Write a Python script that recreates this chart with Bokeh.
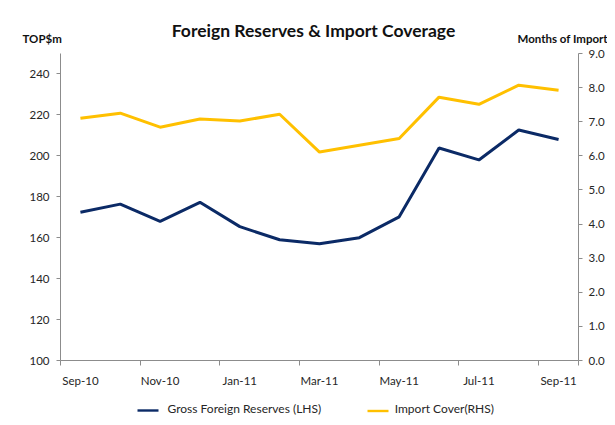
from bokeh.plotting import figure
from bokeh.models import Range1d, LinearAxis, FixedTicker, Label, ColumnDataSource
from bokeh.embed import file_html
from bokeh.resources import INLINE

# ---- data ----
months = ["Sep-10", "Oct-10", "Nov-10", "Dec-10", "Jan-11", "Feb-11", "Mar-11",
          "Apr-11", "May-11", "Jun-11", "Jul-11", "Aug-11", "Sep-11"]
reserves = [172.4, 176.4, 168.0, 177.3, 165.4, 159.0, 157.0, 160.0, 170.2, 203.8, 198.0, 212.6, 208.0]
import_cover = [7.10, 7.25, 6.84, 7.08, 7.02, 7.22, 6.11, 6.31, 6.51, 7.72, 7.51, 8.07, 7.92]
left_ticks = [100, 120, 140, 160, 180, 200, 220, 240]
right_ticks = [0, 1, 2, 3, 4, 5, 6, 7, 8, 9]
series_names = ["Gross Foreign Reserves (LHS)", "Import Cover(RHS)"]

FONT = "Lato"
BLUE = "#0b2a66"
GOLD = "#ffc000"
AXIS = "#8c8c8c"
TXT = "#262626"
DARK = "#111111"

x = list(range(len(months)))
src = ColumnDataSource(dict(x=x, res=reserves, cov=import_cover))

p = figure(width=607, height=417, output_backend="svg", toolbar_location=None,
           x_range=Range1d(-0.5, len(months) - 0.5), y_range=Range1d(100, 250),
           min_border_left=60, min_border_right=27, min_border_top=53, min_border_bottom=57)
p.extra_y_ranges = {"cover": Range1d(0, 9)}
p.xgrid.visible = False
p.ygrid.visible = False
p.outline_line_color = None
p.background_fill_color = "white"
p.border_fill_color = "white"

# x axis: labels every two months, tick marks between categories
xa = p.xaxis[0]
xa.ticker = FixedTicker(ticks=x[::2], minor_ticks=[i - 0.5 for i in x[::2]] + [len(months) - 0.5])
xa.major_label_overrides = {i: months[i] for i in x[::2]}
xa.major_tick_out = 0
xa.major_tick_in = 0
xa.minor_tick_out = 5
xa.minor_tick_in = 0
xa.minor_tick_line_color = AXIS
xa.axis_line_color = AXIS
xa.major_label_standoff = 8
xa.major_label_text_font = FONT
xa.major_label_text_font_size = "11.5px"
xa.major_label_text_color = TXT

ya = p.yaxis[0]
ya.ticker = FixedTicker(ticks=left_ticks)
ya.axis_line_color = AXIS
ya.major_tick_line_color = AXIS
ya.major_tick_out = 4
ya.major_tick_in = 0
ya.minor_tick_line_color = None
ya.major_label_standoff = 7
ya.major_label_text_font = FONT
ya.major_label_text_font_size = "11.5px"
ya.major_label_text_color = TXT

ra = LinearAxis(y_range_name="cover", ticker=FixedTicker(ticks=right_ticks))
ra.major_label_overrides = {t: f"{t:.1f}" for t in right_ticks}
ra.axis_line_color = AXIS
ra.major_tick_line_color = AXIS
ra.major_tick_out = 4
ra.major_tick_in = 0
ra.minor_tick_line_color = None
ra.major_label_standoff = 6
ra.major_label_text_font = FONT
ra.major_label_text_font_size = "11.5px"
ra.major_label_text_color = TXT
p.add_layout(ra, "right")

p.line("x", "res", source=src, line_color=BLUE, line_width=3)
p.line("x", "cov", source=src, y_range_name="cover", line_color=GOLD, line_width=3)

# ---- texts around the frame (side-panel labels stack outward from the frame) ----
def lab(text, x, y, size, bold=True, color=DARK, align="left", **kw):
    return Label(x=x, y=y, x_units="screen", y_units="screen", text=text,
                 text_align=align, text_baseline="middle", text_font=FONT,
                 text_font_style="bold" if bold else "normal",
                 text_font_size=size, text_color=color, **kw)

p.add_layout(lab("Foreign Reserves & Import Coverage", 253, 23, "17.5px", align="center"), "above")
p.add_layout(lab("TOP$m", -38, -6, "11.5px"), "above")
p.add_layout(lab("Months of Import", 457, -19, "11.5px"), "above")

# legend line samples (thin filled boxes)
p.add_layout(lab("\u2003" * 14, 77, -404, "2px", bold=False, color=BLUE,
                 background_fill_color=BLUE), "above")
p.add_layout(lab("\u2003" * 14, 307, -406.5, "2px", bold=False, color=GOLD,
                 background_fill_color=GOLD), "above")

# legend texts below the x axis (one row)
legend_row = series_names[0] + "\u2003" * 8 + "\u2009" + series_names[1]
p.add_layout(lab(legend_row, 107, -3.5, "12px", bold=False, color=TXT), "below")

open("out.html", "w").write(file_html(p, INLINE))
